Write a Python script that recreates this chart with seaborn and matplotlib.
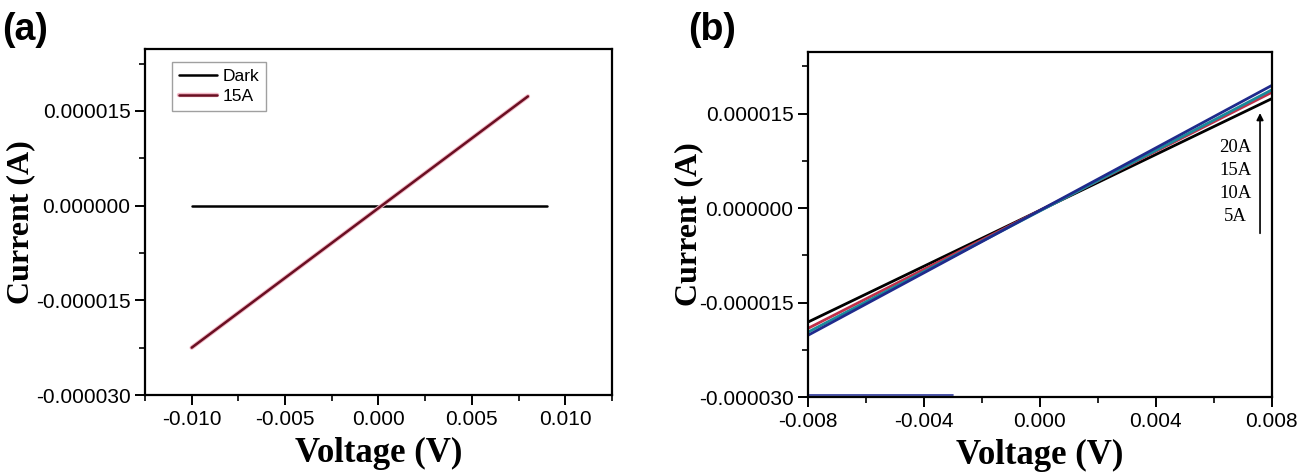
import numpy as np
import pandas as pd
import matplotlib
matplotlib.use("Agg")
import matplotlib.pyplot as plt
import matplotlib.patheffects as pe
import matplotlib.ticker as mticker
import seaborn as sns

# panel (a): dark vs illuminated I-V
dark_v = [-0.010, 0.009]
dark_i = [0.0, 0.0]
lit_v = [-0.010, 0.008]
lit_i = [-22.5e-6, 17.3e-6]

# panel (b): I-V at different currents
v_b = [-0.008, 0.008]
i_5A = [-18.1e-6, 17.4e-6]
i_10A = [-19.1e-6, 18.4e-6]
i_15A = [-19.7e-6, 18.8e-6]
i_20A = [-20.2e-6, 19.5e-6]
# stray trace lying on the bottom axis
stray_v = [-0.008, -0.003]
stray_i = [-29.7e-6, -29.7e-6]

labels_b = ["20A", "15A", "10A", "5A"]
label_y = [9.7e-6, 6.0e-6, 2.4e-6, -1.4e-6]

sns.set_theme(style="ticks")
plt.rcParams["font.family"] = ["Liberation Sans", "DejaVu Sans"]
plt.rcParams["axes.linewidth"] = 1.6
for key in ["text.color", "axes.labelcolor", "xtick.color", "ytick.color", "axes.edgecolor"]:
    plt.rcParams[key] = "black"

df_a = pd.DataFrame({
    "V": dark_v + lit_v,
    "I": dark_i + lit_i,
    "s": ["Dark"] * 2 + ["15A"] * 2,
})
df_b = pd.DataFrame({
    "V": v_b * 4,
    "I": i_5A + i_10A + i_15A + i_20A,
    "s": ["5A"] * 2 + ["10A"] * 2 + ["15A"] * 2 + ["20A"] * 2,
})

fig = plt.figure(figsize=(13.04, 4.75), dpi=100)
ax1 = fig.add_axes([0.1112, 0.1684, 0.3581, 0.7284])
ax2 = fig.add_axes([0.6196, 0.1642, 0.3558, 0.7263])

pink_edge = [pe.Stroke(linewidth=3.2, foreground="#f2b8c6"), pe.Normal()]

sns.lineplot(data=df_a, x="V", y="I", hue="s", sort=False, ax=ax1,
             palette={"Dark": "black", "15A": "#6a0f22"}, linewidth=1.8)
for ln in ax1.get_lines():
    if ln.get_color() == "#6a0f22":
        ln.set_path_effects(pink_edge)

sns.lineplot(data=df_b, x="V", y="I", hue="s", sort=False, ax=ax2, legend=False,
             palette={"5A": "black", "10A": "#c0304a", "15A": "#1a8a9a", "20A": "#1f2a8c"},
             linewidth=2.0)
ax2.plot(stray_v, stray_i, color="#2a3599", lw=1.2)

for ax in (ax1, ax2):
    ax.set_ylim(-30e-6, 24.8e-6)
    ax.yaxis.set_major_locator(mticker.MultipleLocator(15e-6))
    ax.yaxis.set_minor_locator(mticker.MultipleLocator(7.5e-6))
    ax.yaxis.set_major_formatter(mticker.FormatStrFormatter("%.6f"))
    ax.xaxis.set_major_formatter(mticker.FormatStrFormatter("%.3f"))
    ax.tick_params(which="major", direction="out", length=7, width=1.4, labelsize=15)
    ax.tick_params(which="minor", direction="out", length=4, width=1.2)
    ax.set_xlabel("Voltage (V)", family="Liberation Serif", weight="bold", size=25, labelpad=6)
    ax.set_ylabel("Current (A)", family="Liberation Serif", weight="bold", size=23)
    for sp in ax.spines.values():
        sp.set_visible(True)
        sp.set_linewidth(1.6)
        sp.set_color("black")

ax1.yaxis.set_label_coords(-0.236, 0.5)
ax2.yaxis.set_label_coords(-0.226, 0.5)

ax1.set_xlim(-0.0125, 0.0125)
ax1.xaxis.set_major_locator(mticker.MultipleLocator(0.005))
ax1.xaxis.set_minor_locator(mticker.MultipleLocator(0.0025))

ax2.set_xlim(-0.008, 0.008)
ax2.xaxis.set_major_locator(mticker.MultipleLocator(0.004))
ax2.xaxis.set_minor_locator(mticker.MultipleLocator(0.002))

# legend of panel (a)
h, l = ax1.get_legend_handles_labels()
leg = ax1.legend(h, l, loc="upper left", bbox_to_anchor=(0.058, 0.962), borderaxespad=0,
                 fontsize=12.5, frameon=True, fancybox=False, handlelength=2.2,
                 handletextpad=0.3, borderpad=0.4, labelspacing=0.25)
leg.get_frame().set_edgecolor("#888888")
leg.get_frame().set_linewidth(1.0)
leg.get_lines()[1].set_path_effects(pink_edge)

# current labels and arrow in panel (b)
for txt, yy in zip(labels_b, label_y):
    ax2.text(0.00675, yy, txt, ha="center", va="center",
             family="Liberation Serif", fontsize=13.5)
ax2.annotate("", xy=(0.00759, 15.1e-6), xytext=(0.00759, -4.0e-6),
             arrowprops=dict(arrowstyle="-|>", color="black", lw=1.2,
                             mutation_scale=10, shrinkA=0, shrinkB=0))

fig.text(0.002, 0.975, "(a)", fontsize=27, weight="bold", va="top", ha="left")
fig.text(0.528, 0.975, "(b)", fontsize=27, weight="bold", va="top", ha="left")

fig.savefig("out.png", dpi=100)
